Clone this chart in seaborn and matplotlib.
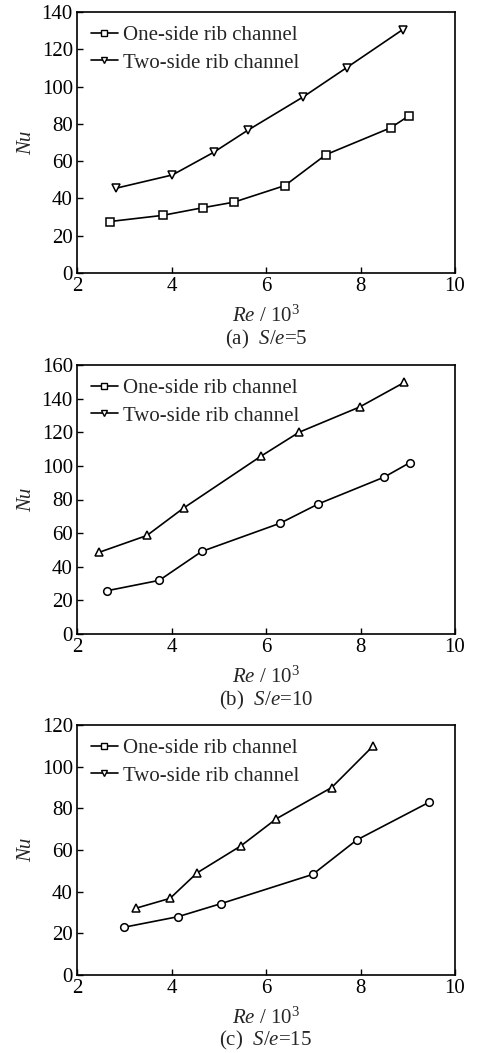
import numpy as np
import pandas as pd
import matplotlib
matplotlib.use("Agg")
import matplotlib.pyplot as plt
from matplotlib.lines import Line2D
import seaborn as sns

# ---- data ----
re_a_one = [2.69, 3.81, 4.66, 5.32, 6.40, 7.27, 8.64, 9.03]
nu_a_one = [27.6, 30.9, 35.0, 38.0, 46.9, 63.5, 77.9, 84.4]
re_a_two = [2.83, 4.02, 4.89, 5.61, 6.79, 7.71, 8.89]
nu_a_two = [45.5, 52.6, 64.7, 76.5, 94.5, 110.2, 130.5]

re_b_one = [2.63, 3.74, 4.64, 6.30, 7.11, 8.50, 9.05]
nu_b_one = [25.7, 31.9, 49.1, 65.9, 77.4, 93.3, 102.0]
re_b_two = [2.46, 3.48, 4.26, 5.89, 6.70, 7.98, 8.93]
nu_b_two = [48.5, 58.6, 75.0, 105.7, 120.0, 135.0, 149.7]

re_c_one = [2.99, 4.14, 5.04, 6.99, 7.92, 9.45]
nu_c_one = [22.9, 28.0, 34.2, 48.3, 64.8, 82.9]
re_c_two = [3.24, 3.97, 4.54, 5.47, 6.22, 7.39, 8.27]
nu_c_two = [32.0, 36.8, 49.0, 62.0, 75.0, 90.0, 110.0]

series_labels = ["One-side rib channel", "Two-side rib channel"]
captions = [r"(a)  $\it{S}$/$\it{e}$=5", r"(b)  $\it{S}$/$\it{e}$=10", r"(c)  $\it{S}$/$\it{e}$=15"]
x_ticks = [2, 4, 6, 8, 10]
y_ticks = [np.arange(0, 141, 20), np.arange(0, 161, 20), np.arange(0, 121, 20)]

sns.set_style("ticks")
plt.rcParams['font.family'] = ['Liberation Serif', 'DejaVu Serif']
plt.rcParams['mathtext.fontset'] = 'custom'
plt.rcParams['mathtext.rm'] = 'Liberation Serif'
plt.rcParams['mathtext.it'] = 'Liberation Serif:italic'
plt.rcParams['mathtext.bf'] = 'Liberation Serif:bold'

FS = 15
fig = plt.figure(figsize=(4.78, 10.53), dpi=100)
W, H = 478, 1053
boxes = [(12, 273), (365, 634), (725, 975)]
left, right = 77, 455

panels = [
    ((re_a_one, nu_a_one, 's'), (re_a_two, nu_a_two, 'v')),
    ((re_b_one, nu_b_one, 'o'), (re_b_two, nu_b_two, '^')),
    ((re_c_one, nu_c_one, 'o'), (re_c_two, nu_c_two, '^')),
]
cap_y = [339, 700, 1040]

for i, ((top, bot), pdata) in enumerate(zip(boxes, panels)):
    ax = fig.add_axes([left / W, 1 - bot / H, (right - left) / W, (bot - top) / H])
    for (xs, ys, mk) in pdata:
        df = pd.DataFrame({"Re": xs, "Nu": ys})
        sns.lineplot(data=df, x="Re", y="Nu", ax=ax, color="black", lw=1.2,
                     marker=mk, markersize=5.5, markerfacecolor="white",
                     markeredgecolor="black", markeredgewidth=1.1)
    ax.set_xlim(2, 10)
    ax.set_ylim(y_ticks[i][0], y_ticks[i][-1])
    ax.set_xticks(x_ticks)
    ax.set_yticks(y_ticks[i])
    ax.tick_params(direction="in", length=4, width=1, labelsize=FS, pad=3,
                   colors="black")
    for s in ax.spines.values():
        s.set_linewidth(1.2)
        s.set_color("black")
    ax.set_xlabel(r"$\it{Re}$ / 10$^3$", fontsize=FS, labelpad=7)
    ax.set_ylabel("Nu", fontsize=FS, style="italic", labelpad=4)
    handles = [Line2D([], [], color="black", lw=1.2, marker='s', markersize=4,
                      markerfacecolor="white", markeredgecolor="black"),
               Line2D([], [], color="black", lw=1.2, marker='v', markersize=4,
                      markerfacecolor="white", markeredgecolor="black")]
    ax.legend(handles, series_labels, loc="upper left", frameon=False,
              fontsize=FS, handlelength=1.3, handletextpad=0.25,
              labelspacing=0.38, borderaxespad=0.45, borderpad=0.2)
    fig.text((left + right) / 2 / W, 1 - cap_y[i] / H, captions[i],
             ha="center", va="center", fontsize=FS)

fig.savefig("out.png", dpi=100, facecolor="white")
